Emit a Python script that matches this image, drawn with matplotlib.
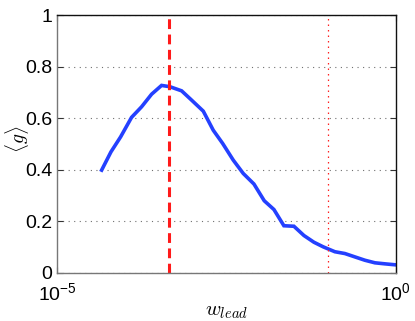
import numpy as np
import matplotlib
matplotlib.use('Agg')
import matplotlib.pyplot as plt
from matplotlib.ticker import FixedLocator, NullLocator

# valores (log10 de w_lead, <g>)
log_w = [-4.345, -4.207, -4.065, -3.903, -3.755, -3.607, -3.460, -3.337, -3.164,
         -3.017, -2.844, -2.697, -2.559, -2.402, -2.254, -2.096, -1.944, -1.801,
         -1.654, -1.506, -1.358, -1.211, -1.073, -0.901, -0.753, -0.606, -0.458,
         -0.310, -0.163, 0.0]
g_mean = [0.399, 0.470, 0.528, 0.604, 0.645, 0.694, 0.728, 0.723, 0.707,
          0.671, 0.628, 0.554, 0.503, 0.438, 0.386, 0.345, 0.280, 0.246,
          0.183, 0.181, 0.145, 0.119, 0.101, 0.082, 0.075, 0.062, 0.049,
          0.039, 0.035, 0.031]
w_dashed = 4.5e-4
w_dotted = 1e-1
y_ticks = [0, 0.2, 0.4, 0.6, 0.8, 1]
x_ticks = [1e-5, 1e0]

w = 10 ** np.array(log_w)

plt.rcParams['font.family'] = ['Liberation Sans', 'DejaVu Sans']
plt.rcParams['mathtext.fontset'] = 'custom'
plt.rcParams['mathtext.rm'] = 'Liberation Sans'
plt.rcParams['mathtext.it'] = 'Liberation Sans:italic'

fig = plt.figure(figsize=(4.15, 3.21), dpi=100)
ax = fig.add_axes([0.138, 0.150, 0.816, 0.802])

ax.plot(w, g_mean, color='#2440ff', linewidth=2.6, solid_joinstyle='miter')
ax.axvline(w_dashed, color='#ff1a1a', linewidth=2.2, linestyle=(0, (3.2, 1.8)))
ax.axvline(w_dotted, color='#ff2020', linewidth=0.9, linestyle=(0, (1.2, 3.2)))

ax.set_xscale('log')
ax.set_xlim(1e-5, 1)
ax.set_ylim(0, 1)
ax.xaxis.set_major_locator(FixedLocator(x_ticks))
ax.xaxis.set_minor_locator(NullLocator())
ax.set_xticklabels([r'$10^{-5}$', r'$10^{0}$'])
ax.set_yticks(y_ticks)
ax.set_yticklabels(['0', '0.2', '0.4', '0.6', '0.8', '1'])

ax.yaxis.grid(True, linestyle=(0, (1, 4)), color='#707070', linewidth=0.8)
ax.tick_params(direction='in', length=4, labelsize=14, right=True, top=True,
               color='#333333')
ax.tick_params(axis='x', pad=7)
for s in ['left', 'bottom']:
    ax.spines[s].set_color('#777777')
for s in ['right', 'top']:
    ax.spines[s].set_color('#111111')
for s in ax.spines.values():
    s.set_linewidth(1.0)

ax.set_xlabel(r'$w_{lead}$', fontsize=15, math_fontfamily='cm')
ax.set_ylabel(r'$\langle g \rangle$', fontsize=14, math_fontfamily='cm')
ax.xaxis.set_label_coords(0.5, -0.112)
ax.yaxis.set_label_coords(-0.078, 0.52)

fig.savefig('out.png', dpi=100)
